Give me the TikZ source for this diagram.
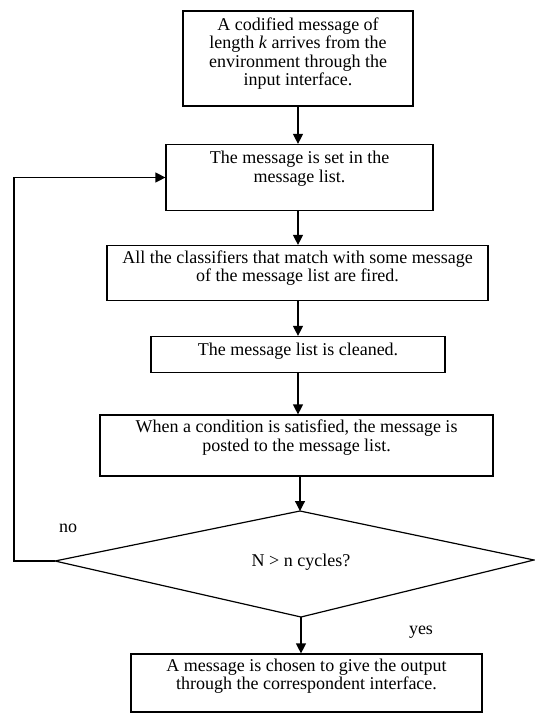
\documentclass[tikz,border=0pt]{standalone}
\usepackage{fontspec}
\setmainfont{Liberation Serif}
\usetikzlibrary{arrows.meta}
\begin{document}
\begin{tikzpicture}[x=1pt,y=-1pt,
  box/.style={draw,line width=1.2pt,inner sep=0pt},
  txt/.style={align=center,inner sep=0pt,font=\fontsize{18}{18.5}\selectfont},
  arr/.style={line width=1.2pt,-{Triangle[width=10pt,length=10pt]}},
  lbl/.style={font=\fontsize{18}{18.5}\selectfont}]
\useasboundingbox (0,0) rectangle (535,713);
\node[box,minimum width=230pt,minimum height=95pt] (b1) at (298,58.5) {};
\node[txt] (t1) at ([yshift=5pt]b1.center)
  {A codified message of\\length \textit{k} arrives from the\\environment through the\\input interface.};
\node[box,minimum width=267pt,minimum height=66pt] (b2) at (299.5,177.5) {};
\node[txt] (t2) at ([yshift=9pt]b2.center) {The message is set in the\\message list.};
\node[box,minimum width=381pt,minimum height=55pt] (b3) at (297.5,273) {};
\node[txt] (t3) at ([yshift=5pt]b3.center)
  {All the classifiers that match with some message\\of the message list are fired.};
\node[box,minimum width=294pt,minimum height=36pt] (b4) at (298,354.5) {};
\node[txt] (t4) at ([yshift=3pt]b4.center) {The message list is cleaned.};
\node[box,minimum width=393pt,minimum height=61pt] (b5) at (296.5,445.5) {};
\node[txt] (t5) at ([yshift=8pt]b5.center)
  {When a condition is satisfied, the message is\\posted to the message list.};
\coordinate (dt) at (300,511);
\coordinate (dl) at (55,561);
\coordinate (dr) at (534,560);
\coordinate (db) at (301,617);
\draw[line width=1.2pt] (dt) -- (dr) -- (db) -- (dl) -- cycle;
\node[lbl] (q) at (301,562) {N > n cycles?};
\node[box,minimum width=351pt,minimum height=58pt] (b6) at (306.5,683) {};
\node[txt] (t6) at ([yshift=7pt]b6.center)
  {A message is chosen to give the output\\through the correspondent interface.};
\coordinate (lc) at (14,561);
\node[lbl] (no) at (68,528) {no};
\node[lbl] (yes) at (421,632) {yes};
\draw[arr] (b1.south -| 298,0) -- (b2.north -| 298,0);
\draw[arr] (b2.south -| 298,0) -- (b3.north -| 298,0);
\draw[arr] (b3.south -| 298,0) -- (b4.north -| 298,0);
\draw[arr] (b4.south -| 298,0) -- (b5.north -| 298,0);
\draw[arr] (b5.south -| dt) -- (dt);
\draw[arr] (db) -- (b6.north -| db);
\draw[arr] (dl) -- (lc) |- (b2.west);
\end{tikzpicture}
\end{document}
